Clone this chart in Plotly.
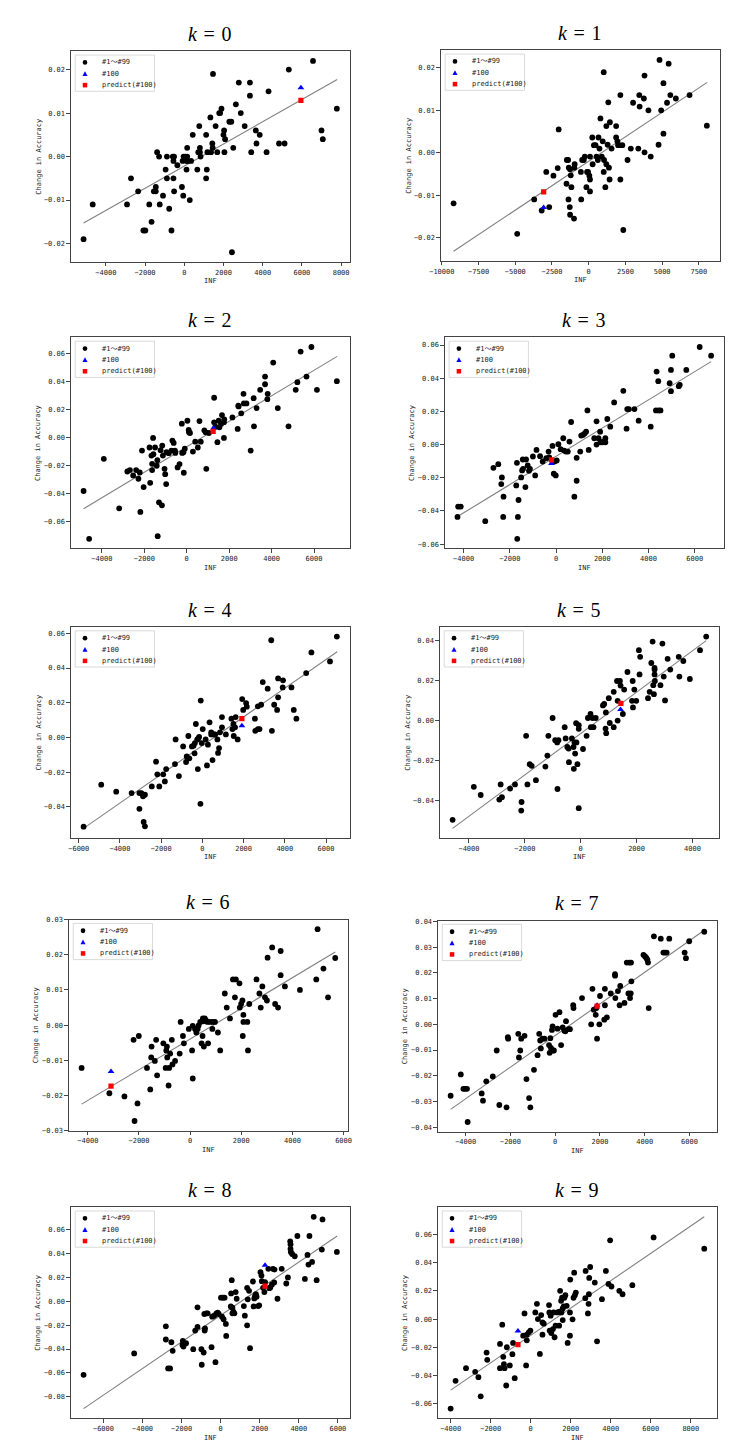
import plotly.graph_objects as go

W, H = 756, 1455

# ---------------- data ----------------
INF_0 = [-5133,-4667,-2917,-2717,-2350,-2083,-1983,-1783,-1667,-1550,
         -1450,-1450,-1383,-1283,-1250,-1083,-950,-883,-883,-767,
         -650,-583,-550,-517,-550,-517,-350,-117,-83,-50,
         -33,50,117,117,150,150,183,283,350,433,
         667,717,767,800,800,833,1117,1117,1150,1183,
         1333,1367,1433,1450,1467,1600,1683,1783,1833,1900,
         2000,2033,2050,2083,2300,2400,2500,2433,2633,2783,
         2883,3083,3350,3350,3417,3650,3683,3850,4200,4300,
         4833,5117,5333,6567,7000,7067,7783]
ACC_0 = [-0.019,-0.011,-0.011,-0.005,-0.008,-0.017,-0.017,-0.011,-0.015,-0.008,
         -0.007,-0.008,0.001,0.000,-0.011,-0.009,-0.003,0.000,-0.005,-0.012,
         -0.017,0.000,-0.001,0.000,-0.005,-0.008,-0.002,-0.007,-0.001,-0.009,
         0.000,0.000,-0.001,-0.003,0.002,0.000,-0.001,-0.010,-0.001,0.005,
         -0.003,0.001,0.007,0.002,0.001,0.000,0.005,-0.005,-0.003,0.001,
         0.009,0.001,0.003,0.002,0.019,0.007,0.001,0.010,0.010,0.011,
         0.005,0.006,0.001,0.004,0.008,0.008,0.002,-0.022,0.012,0.017,
         0.010,0.007,0.017,0.014,0.001,0.006,0.003,0.005,0.001,0.015,
         0.003,0.003,0.020,0.022,0.006,0.004,0.011]

INF_1 = [-9200,-4867,-3711,-3200,-2889,-2689,-2400,-2111,-2044,-1511,
         -1489,-1400,-1356,-1378,-1267,-1289,-1267,-1222,-1178,-1000,
         -978,-956,-533,-511,-444,-333,-267,-156,-111,-44,
         44,89,89,89,244,267,356,467,533,622,
         667,733,800,889,956,1022,1022,1044,1133,1200,
         1200,1289,1333,1378,1422,1444,1556,1867,1867,1956,
         2000,2089,2156,2156,2289,2356,2644,2867,3022,3378,
         3444,3467,3756,3800,3800,4067,4222,4756,4822,4933,
         5089,5089,5444,5333,5556,5933,6867,8044]
ACC_1 = [-0.0119,-0.0191,-0.011,-0.0136,-0.0045,-0.0128,-0.0054,-0.0036,0.0055,-0.0073,
         -0.0017,-0.0017,-0.0035,-0.011,-0.0039,-0.0128,-0.0146,-0.0053,-0.0081,-0.0155,
         -0.0035,-0.0027,-0.0045,-0.011,-0.0017,-0.0017,-0.0009,-0.0081,-0.0045,-0.0045,
         -0.0054,-0.0063,-0.0091,-0.0009,0.0036,-0.0027,0.0018,0.0018,-0.0009,-0.0017,
         0.0036,0.001,0.0081,-0.0009,0.0027,0.019,-0.0045,-0.0017,-0.0081,0.0063,
         -0.0027,0.0019,0.0119,-0.0035,-0.0063,0.0072,0.001,0.0063,0.0036,0.0027,
         0.0018,0.0018,0.0136,-0.0063,0.0018,-0.0182,-0.0017,0.001,0.0118,0.001,
         0.0136,0.0109,0.0128,0.0001,0.0182,0.01,-0.0009,0.0019,0.0219,0.01,
         0.0164,0.0045,0.021,0.0118,0.0136,0.0128,0.0136,0.0064]

INF_2 = [-4862,-4600,-3908,-3185,-2800,-2677,-2523,-2385,-2277,-2215,
         -2185,-2108,-2031,-1754,-1723,-1662,-1631,-1631,-1585,-1569,
         -1492,-1415,-1385,-1369,-1308,-1169,-1231,-1154,-1123,-1046,
         -1015,-969,-954,-846,-723,-677,-615,-554,-538,-431,
         -338,-231,-215,-154,-138,-92,31,92,108,154,
         292,400,523,600,662,831,892,923,1046,1292,
         1292,1354,1446,1508,1538,1615,1662,1754,1754,1769,
         2154,2400,2431,2446,2569,2692,2815,2677,3015,3154,
         3169,3292,3462,3692,3692,3800,3815,4077,4292,4800,
         5138,5215,5369,5646,5877,6138,7077]
ACC_2 = [-0.0383,-0.0726,-0.0152,-0.0507,-0.0243,-0.0233,-0.0271,-0.0233,-0.0295,-0.025,
         -0.0533,-0.0093,-0.0355,-0.0071,-0.0324,-0.0129,-0.0188,-0.0233,-0.0002,-0.0119,
         -0.0071,-0.0202,-0.0162,-0.0707,-0.0464,-0.0486,-0.009,-0.0057,-0.0129,-0.0224,
         -0.0262,-0.0333,-0.0105,-0.0112,-0.0093,-0.0021,-0.0038,-0.0093,-0.011,-0.0214,
         -0.019,0.01,-0.011,-0.0105,-0.0252,-0.0079,0.0121,0.0055,0.0038,0.0033,
         -0.01,-0.0029,-0.0071,0.0119,-0.0029,0.0052,0.0038,-0.0224,0.0033,0.0286,
         0.011,0.0079,-0.0033,0.0121,0.0074,0.0098,0.0162,0.011,-0.0002,0.0131,
         0.0145,0.0062,0.0229,0.0224,0.0174,0.0245,0.0245,0.0314,-0.0093,0.0283,
         0.0081,0.0212,0.0343,0.0438,0.0383,0.0276,0.0314,0.0538,0.0212,0.0081,
         0.0343,0.0398,0.0617,0.0438,0.065,0.0343,0.0405]

INF_3 = [-4265,-4237,-4124,-3064,-2711,-2500,-2372,-2344,-2273,-2287,
         -1723,-1694,-1652,-1680,-1624,-1511,-1469,-1440,-1426,-1299,
         -1327,-1228,-1172,-1130,-1003,-904,-847,-692,-579,-424,
         -325,-296,-155,-99,-71,-14,28,99,198,311,
         353,424,508,579,650,791,890,890,1045,1087,
         1158,1229,1299,1356,1412,1652,1751,1751,1836,1906,
         1920,2005,2076,2132,2132,2216,2344,2513,2909,3050,
         3078,3149,3389,3572,4095,4349,4420,4321,4434,4518,
         4914,4970,4970,5027,5309,5352,5634,6213,6707]
ACC_3 = [-0.0436,-0.0374,-0.0374,-0.0462,-0.014,-0.0118,-0.0238,-0.0198,-0.0314,-0.0436,
         -0.0246,-0.011,-0.0436,-0.0568,-0.0334,-0.0198,-0.0156,-0.009,-0.0146,-0.009,
         -0.0256,-0.0126,-0.0158,-0.0146,-0.0072,-0.0186,-0.0032,-0.007,-0.0102,-0.0082,
         -0.0042,-0.0078,-0.0008,-0.0176,-0.0102,-0.0186,-0.0096,0.0002,-0.0028,0.0038,
         -0.0036,-0.0042,-0.0042,0.0018,0.0136,-0.0314,-0.008,-0.0218,-0.0042,0.0054,
         0.0058,0.0066,0.0078,0.0206,-0.0032,0.0038,0.014,0.0,0.0038,0.0078,
         0.0014,0.0014,0.0018,0.0038,0.0014,0.0154,0.0108,0.0254,0.0324,0.0096,
         0.0214,0.0214,0.0214,0.0144,0.0108,0.044,0.0382,0.0206,0.0206,0.0206,
         0.037,0.045,0.0322,0.0536,0.0352,0.036,0.045,0.0588,0.0536]

INF_4 = [-5766,-4910,-4182,-3437,-3057,-3057,-2962,-2883,-2851,-2788,
         -2788,-2455,-2249,-2186,-2091,-1901,-1822,-1758,-1331,-1299,
         -1140,-935,-792,-760,-681,-634,-507,-428,-380,-364,
         -317,-253,-206,-222,-158,-95,-79,-32,16,158,
         222,269,348,428,428,491,554,618,729,760,
         808,855,950,950,1140,1410,1457,1505,1521,1584,
         1616,1711,1932,1980,2122,2154,2550,2566,2693,2772,
         2693,2851,2930,3168,3342,3374,3485,3627,3675,3675,
         3897,3913,4324,4435,4562,5037,5291,6193,6526]
ACC_4 = [-0.0515,-0.0273,-0.0313,-0.0321,-0.0321,-0.0412,-0.0321,-0.034,-0.0488,-0.0513,
         -0.0331,-0.0283,-0.014,-0.0213,-0.0283,-0.0213,-0.0254,-0.0183,-0.0154,-0.0012,
         -0.0223,-0.0052,-0.0142,-0.011,0.0008,-0.0121,-0.0052,-0.0048,-0.0092,-0.0033,
         0.0077,-0.0013,-0.0008,-0.0183,0.0002,-0.0383,0.0212,-0.0033,0.0048,-0.0012,
         -0.0162,-0.0042,0.0087,0.0017,0.0029,-0.0131,0.0017,0.0017,-0.0012,-0.009,
         -0.0062,0.0029,0.0058,0.0117,0.0017,0.0108,0.0048,0.0077,0.0008,0.0058,
         0.0117,-0.0012,0.0221,0.0158,0.0198,0.0177,0.0108,0.0038,0.0048,0.0048,
         0.0179,0.0188,0.0319,0.0281,0.056,0.0038,0.0188,0.0158,0.034,0.0231,
         0.0288,0.0329,0.0288,0.0158,0.0108,0.0371,0.049,0.0438,0.0581]

INF_5 = [-4586,-3826,-3580,-2866,-2913,-2820,-2527,-2352,-2118,-2129,
         -1954,-1907,-1825,-1755,-1603,-1264,-1193,-1158,-1006,-913,
         -842,-831,-796,-573,-538,-480,-433,-421,-316,-257,
         -246,-222,-199,-164,-152,-117,-70,-70,-70,82,
         211,257,351,363,421,456,538,796,842,901,
         889,913,1006,1041,1182,1182,1299,1322,1322,1404,
         1427,1509,1556,1673,1837,1860,1872,1919,1989,2083,
         2106,2129,2410,2469,2527,2574,2597,2621,2644,2644,
         2656,2644,2855,2925,2972,3019,3112,3206,3510,3533,
         3674,3908,4271,4493]
ACC_5 = [-0.0496,-0.0331,-0.0372,-0.0319,-0.0395,-0.0383,-0.034,-0.0319,-0.0407,-0.045,
         -0.0076,-0.0319,-0.0218,-0.0226,-0.0298,-0.023,-0.0175,-0.0076,0.0013,-0.0098,
         -0.0109,-0.0342,-0.0098,-0.0033,-0.0089,-0.0132,-0.014,-0.0208,-0.0089,-0.0132,
         -0.0241,-0.0109,-0.0165,-0.0013,-0.0109,-0.0218,-0.0438,-0.0041,-0.0023,-0.0142,
         -0.0076,0.0013,0.0033,-0.0033,0.0013,-0.0033,0.0013,0.0076,0.0083,0.0041,
         -0.004,-0.0063,0.0112,-0.0012,-0.0033,0.0144,0.0198,0.0099,0.0,0.0198,
         0.0175,0.0033,0.0155,0.0243,0.0099,0.0198,0.0066,0.0155,0.0099,0.0352,
         0.0231,0.0319,0.0112,0.0144,0.0288,0.0395,0.0177,0.0132,0.0264,0.0255,
         0.0198,0.0231,0.0177,0.0385,0.022,0.0101,0.0309,0.0255,0.0319,0.022,
         0.0298,0.0208,0.0352,0.042]

INF_6 = [-4243,-3157,-2569,-2211,-2173,-2058,-2007,-1687,-1559,-1521,
         -1508,-1380,-1329,-1291,-1048,-958,-933,-907,-895,-843,
         -818,-780,-716,-690,-588,-409,-371,-281,-243,-51,
         77,102,102,192,243,294,332,396,447,486,
         498,511,537,575,613,677,703,792,869,895,
         971,1086,1176,1355,1431,1559,1674,1751,1789,1930,
         1942,1994,2045,2058,2083,2083,2237,2262,2313,2594,
         2709,2761,2824,2927,3003,3029,3208,3323,3438,3540,
         3540,3706,4294,4933,4984,5214,5393,5674]
ACC_6 = [-0.0122,-0.0194,-0.0203,-0.0042,-0.0273,-0.0223,-0.0031,-0.0122,-0.0183,-0.0092,
         -0.0061,-0.0102,-0.0042,-0.0143,-0.0052,-0.0122,-0.0072,-0.0061,-0.0092,-0.0172,
         -0.0122,-0.0081,-0.0042,-0.0112,-0.0102,-0.0081,0.0009,-0.0031,-0.0052,-0.0011,
         -0.0072,-0.0152,-0.0002,-0.0011,-0.0021,-0.0011,-0.0001,0.0009,-0.0052,-0.0031,
         0.0019,0.0011,-0.0061,0.0019,0.0014,0.0009,-0.0052,0.0009,-0.0011,0.0009,
         0.0009,-0.0021,-0.0072,0.009,0.005,0.0019,0.013,0.0079,0.013,0.0119,
         0.005,0.006,0.007,-0.0031,0.0029,0.0009,0.0009,-0.0072,0.006,0.013,
         0.009,0.005,0.011,0.0079,0.007,0.0192,0.0221,0.006,0.005,0.0211,
         0.0142,0.011,0.01,0.013,0.0273,0.0161,0.0079,0.0191]

INF_7 = [-4672,-4219,-4103,-4030,-3942,-3913,-3285,-3227,-3081,-2789,
         -2613,-2497,-2175,-2117,-2102,-1650,-1621,-1562,-1518,-1372,
         -1285,-1168,-1110,-949,-788,-715,-672,-642,-569,-482,
         -277,-248,-219,-190,-146,-117,-102,-58,15,102,
         190,263,336,409,453,482,599,657,803,818,
         1197,1606,1664,1723,1810,1840,1869,1971,2000,2190,
         2219,2219,2307,2482,2672,2672,2686,2803,2876,2905,
         3095,3197,3270,3314,3343,3387,3402,3373,3942,4015,
         4073,4117,4146,4176,4409,4716,4833,4906,4979,5095,
         5782,5840,5986,6658]
ACC_7 = [-0.0278,-0.0195,-0.0251,-0.0251,-0.0251,-0.038,-0.0269,-0.0297,-0.0222,-0.0203,
         -0.0102,-0.0314,-0.0323,-0.005,-0.0056,-0.0037,-0.0129,-0.0102,-0.0056,-0.0045,
         -0.0213,-0.0287,-0.0323,-0.0177,-0.012,-0.0037,-0.0063,-0.0094,-0.0056,-0.0056,
         -0.0081,-0.0111,-0.0054,-0.0092,-0.0022,-0.0008,-0.0102,-0.0102,0.0037,-0.0017,
         0.0047,-0.0081,-0.0012,-0.0025,-0.0027,0.0012,-0.0019,-0.0019,0.0074,0.0063,
         0.0102,0.0,0.0138,0.0057,0.0037,0.0063,-0.0056,0.0,0.011,0.0018,
         0.0138,0.0074,0.0027,0.012,0.0189,0.0195,0.0102,0.0129,0.0074,0.0149,
         0.0083,0.024,0.012,0.024,0.0102,0.024,0.0167,0.012,0.027,0.0264,
         0.0258,0.0251,0.024,0.0063,0.0342,0.0333,0.0279,0.0279,0.0279,0.0333,
         0.0279,0.0257,0.0323,0.036]

INF_8 = [-7018,-4428,-2807,-2807,-2523,-2456,-2690,-2590,-1938,-1905,
         -1855,-1771,-1955,-1404,-1303,-1186,-1186,-986,-969,-869,
         -819,-802,-836,-735,-668,-468,-434,-334,-267,-217,
         -150,-100,17,67,117,150,201,267,284,518,
         535,568,602,602,652,702,769,819,1186,1237,
         1354,1354,1387,1454,1504,1654,1688,1721,1755,1805,
         1838,1922,1972,2039,2089,2106,2172,2239,2273,2440,
         2490,2540,2624,2674,2740,2757,2908,3125,3359,3442,
         3559,3576,3576,3593,3660,3793,3927,4311,4445,4495,
         4545,4679,4763,4913,5180,5214,5949]
ACC_8 = [-0.0616,-0.0437,-0.0209,-0.032,-0.0343,-0.0415,-0.0563,-0.0563,-0.0331,-0.0379,
         -0.0357,-0.0351,-0.0365,-0.0401,-0.0245,-0.0214,-0.005,-0.0401,-0.0532,-0.0429,
         -0.0245,-0.0226,-0.0106,-0.01,-0.01,-0.0384,-0.0128,-0.012,-0.051,-0.01,
         -0.0095,-0.0106,0.0031,-0.0128,0.0031,-0.015,0.0031,-0.0189,-0.029,-0.0042,
         0.0067,0.0178,-0.0053,-0.01,-0.0086,-0.01,0.0078,0.0022,-0.0039,-0.012,
         0.0114,-0.0201,0.0017,0.0089,-0.0393,0.0167,-0.0042,0.0025,0.0045,0.0061,
         0.0039,-0.0039,-0.0033,0.0245,0.0217,0.017,0.0114,0.0078,0.0162,0.0273,
         0.0111,0.0117,0.0142,0.0273,0.0159,0.0267,0.0022,0.0273,0.015,0.0201,
         0.0504,0.0479,0.044,0.0415,0.0398,0.0379,0.0549,0.0189,0.039,0.0309,
         0.0549,0.0331,0.071,0.0178,0.0435,0.0688,0.0415]

INF_9 = [-4001,-3756,-3233,-2776,-2613,-2499,-2205,-2172,-1535,-1535,
         -1421,-1372,-1339,-1307,-1225,-1192,-1045,-882,-915,-800,
         -376,-310,-229,-196,-196,-98,-16,229,310,359,
         457,523,588,588,653,915,931,947,996,1029,
         1110,1143,1192,1241,1323,1421,1437,1470,1519,1535,
         1568,1600,1600,1649,1682,1731,1796,1845,1960,1976,
         1960,2090,2139,2172,2205,2254,2727,2743,2858,2890,
         2907,2923,2972,3201,3315,3560,3756,3887,3968,4034,
         4426,4589,5079,6140,8671]
ACC_9 = [-0.0635,-0.0438,-0.0348,-0.0374,-0.0412,-0.0548,-0.0238,-0.0289,-0.0176,-0.0348,
         -0.004,-0.0268,-0.032,-0.0348,-0.0471,-0.02,-0.0329,-0.0169,-0.0249,-0.0419,
         -0.0118,0.004,-0.0329,-0.0151,-0.0111,-0.0094,-0.0082,0.0047,0.0108,0.0,
         -0.0247,0.0028,-0.0024,-0.0111,-0.0033,0.0099,0.0047,-0.0082,0.0024,-0.0099,
         -0.0071,0.0047,-0.0129,-0.0047,0.0047,-0.0047,0.0052,0.02,0.0129,0.0047,
         0.0151,-0.0007,0.0075,0.0089,0.0151,0.0169,0.0094,-0.0169,0.0047,0.028,
         -0.0118,-0.0002,0.0151,0.0329,0.0169,0.0188,0.0148,0.0341,0.004,0.0108,
         0.0176,0.0292,0.0369,0.0259,-0.0158,0.0141,0.0341,0.0249,0.0558,0.0231,
         0.02,0.0176,0.024,0.0579,0.0499]

# sample #100 (actual) and its prediction, per k
TARGET_INF = [5950, -3067, 1262, -198, 1917, 1427, -3093, 1869, 2272, -637]
TARGET_ACC = [0.0158, -0.0129, 0.0069, -0.0114, 0.0067, 0.0055, -0.0132, 0.0074, 0.0304, -0.0085]
PRED_INF = [5950, -3067, 1246, -198, 1917, 1439, -3093, 1869, 2272, -637]
PRED_ACC = [0.0129, -0.0092, 0.0045, -0.0092, 0.0108, 0.0086, -0.0174, 0.0071, 0.0128, -0.0181]

# fitted line end points, per k
FIT_X0 = [-5133, -9200, -4862, -4265, -5766, -4586, -4243, -4672, -7018, -4001]
FIT_X1 = [7800, 8067, 7092, 6707, 6542, 4493, 5674, 6658, 5965, 8671]
FIT_Y0 = [-0.0153, -0.0232, -0.051, -0.0434, -0.0525, -0.0539, -0.0225, -0.0331, -0.090, -0.0504]
FIT_Y1 = [0.0177, 0.0166, 0.0583, 0.050, 0.0494, 0.040, 0.0208, 0.0366, 0.0549, 0.0725]

K_LABELS = ["0", "1", "2", "3", "4", "5", "6", "7", "8", "9"]
X_DTICK = [2000, 2500, 2000, 2000, 2000, 2000, 2000, 2000, 2000, 2000]
Y_DTICK = [0.01, 0.01, 0.02, 0.02, 0.02, 0.02, 0.01, 0.01, 0.02, 0.02]
LEGEND_LABELS = ["#1～#99", "#100", "predict(#100)"]

INF = [INF_0, INF_1, INF_2, INF_3, INF_4, INF_5, INF_6, INF_7, INF_8, INF_9]
ACC = [ACC_0, ACC_1, ACC_2, ACC_3, ACC_4, ACC_5, ACC_6, ACC_7, ACC_8, ACC_9]

# ---------------- layout (pixel boxes of each plot area: l, t, r, b) ----------------
BOXES = [(52, 40.5, 337, 252), (430, 39.5, 715, 251),
         (52, 328, 337, 540), (434, 328, 719, 540),
         (52, 619, 337, 831), (429, 619, 714, 831),
         (50, 913, 335, 1125), (427, 914, 712, 1126),
         (52, 1202, 337, 1414), (427, 1202, 712, 1414)]

FONT = "DejaVu Sans Mono, Noto Sans CJK JP, monospace"
TXT = "#222222"
SPINE = "#444444"


def px(x):
    return x / W


def py(y):
    return 1 - y / H


def padded(vals):
    lo, hi = min(vals), max(vals)
    m = (hi - lo) * 0.05
    return [lo - m, hi + m]


fig = go.Figure()
shapes, annots = [], []
layout_axes = {}

for i in range(10):
    sfx = "" if i == 0 else str(i + 1)
    xa, ya = "x" + sfx, "y" + sfx
    l, t, r, b = BOXES[i]

    fig.add_trace(go.Scatter(x=[FIT_X0[i], FIT_X1[i]], y=[FIT_Y0[i], FIT_Y1[i]],
                             mode="lines", line=dict(color="#808080", width=1.1),
                             xaxis=xa, yaxis=ya, hoverinfo="skip"))
    fig.add_trace(go.Scatter(x=INF[i], y=ACC[i], mode="markers",
                             marker=dict(color="black", size=5.8, line=dict(width=0)),
                             xaxis=xa, yaxis=ya))
    fig.add_trace(go.Scatter(x=[TARGET_INF[i]], y=[TARGET_ACC[i]], mode="markers",
                             marker=dict(color="#0000ff", size=6, symbol="triangle-up",
                                         line=dict(width=0)),
                             xaxis=xa, yaxis=ya))
    fig.add_trace(go.Scatter(x=[PRED_INF[i]], y=[PRED_ACC[i]], mode="markers",
                             marker=dict(color="#ff0000", size=5.2, symbol="square",
                                         line=dict(width=0)),
                             xaxis=xa, yaxis=ya))

    xs = INF[i] + [TARGET_INF[i], PRED_INF[i], FIT_X0[i], FIT_X1[i]]
    ys = ACC[i] + [TARGET_ACC[i], PRED_ACC[i], FIT_Y0[i], FIT_Y1[i]]

    common = dict(ticks="outside", ticklen=3.5, tickwidth=0.8, tickcolor=SPINE,
                  showline=True, linecolor=SPINE, linewidth=1, mirror=True,
                  showgrid=False, zeroline=False,
                  tickfont=dict(family=FONT, size=7, color=TXT))
    layout_axes["xaxis" + sfx] = dict(domain=[px(l), px(r)], anchor=ya,
                                      range=padded(xs), dtick=X_DTICK[i], tick0=0,
                                      exponentformat="none", tickformat="d", **common)
    layout_axes["yaxis" + sfx] = dict(domain=[py(b), py(t)], anchor=xa,
                                      range=padded(ys), dtick=Y_DTICK[i], tick0=0,
                                      tickformat=".2f", **common)

    # title
    annots.append(dict(text="<i>k</i>\u2004=\u2004" + K_LABELS[i], x=px((l + r) / 2),
                       y=py(t - 17.5), xref="paper", yref="paper", showarrow=False,
                       xanchor="center", yanchor="middle",
                       font=dict(family="Liberation Serif, DejaVu Serif, serif", size=20,
                                 color="black")))
    # axis labels
    annots.append(dict(text="INF", x=px((l + r) / 2), y=py(b + 19.5), xref="paper",
                       yref="paper", showarrow=False, xanchor="center", yanchor="middle",
                       font=dict(family=FONT, size=7, color=TXT)))
    annots.append(dict(text="Change in Accuracy", x=px(l - 33.5), y=py((t + b) / 2),
                       xref="paper", yref="paper", showarrow=False, textangle=-90,
                       xanchor="center", yanchor="middle",
                       font=dict(family=FONT, size=7, color=TXT)))

    # legend box
    bx0, by0 = l + 4.4, t + 3.8
    shapes.append(dict(type="rect", xref="paper", yref="paper",
                       x0=px(bx0), x1=px(bx0 + 81), y0=py(by0), y1=py(by0 + 36.4),
                       fillcolor="rgba(255,255,255,0.85)",
                       line=dict(color="#d0d0d0", width=0.8)))
    mx = l + 14.4
    rows = [t + 11.2, t + 22.6, t + 34.0]
    # circle
    rc = 2.4
    shapes.append(dict(type="circle", xref="paper", yref="paper",
                       x0=px(mx - rc), x1=px(mx + rc), y0=py(rows[0] + rc), y1=py(rows[0] - rc),
                       fillcolor="black", line=dict(width=0)))
    # triangle
    ty = rows[1]
    path = "M {:.6f},{:.6f} L {:.6f},{:.6f} L {:.6f},{:.6f} Z".format(
        px(mx - 2.6), py(ty + 2.2), px(mx + 2.6), py(ty + 2.2), px(mx), py(ty - 2.6))
    shapes.append(dict(type="path", xref="paper", yref="paper", path=path,
                       fillcolor="#0000ff", line=dict(width=0)))
    # square
    sq = 2.3
    shapes.append(dict(type="rect", xref="paper", yref="paper",
                       x0=px(mx - sq), x1=px(mx + sq), y0=py(rows[2] + sq), y1=py(rows[2] - sq),
                       fillcolor="#ff0000", line=dict(width=0)))
    for lab, ry in zip(LEGEND_LABELS, rows):
        annots.append(dict(text=lab, x=px(l + 29.4), y=py(ry), xref="paper", yref="paper",
                           showarrow=False, xanchor="left", yanchor="middle",
                           font=dict(family=FONT, size=7, color=TXT)))

fig.update_layout(width=W, height=H, margin=dict(l=0, r=0, t=0, b=0),
                  paper_bgcolor="white", plot_bgcolor="white", showlegend=False,
                  shapes=shapes, annotations=annots, **layout_axes)

fig.write_html("out.html")
